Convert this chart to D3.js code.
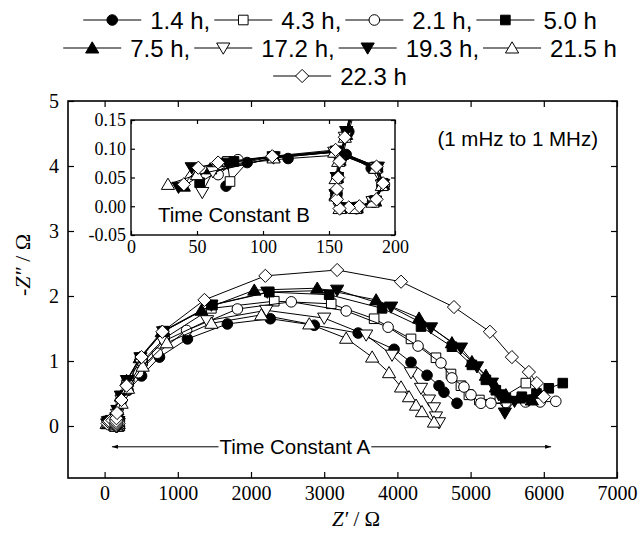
<!DOCTYPE html>
<html>
<head>
<meta charset="utf-8">
<script src="https://cdn.jsdelivr.net/npm/d3@7"></script>
<style>
  body { margin: 0; background: #fff; }
  .sans { font-family: "Liberation Sans", Arial, sans-serif; }
  .serif { font-family: "Liberation Serif", "Times New Roman", serif; }
</style>
</head>
<body>
<svg width="644" height="533"></svg>
<script>
// Nyquist data, [Z', -Z''] in ohm, high to low frequency
const h1_4 = [[72,0.035],[88,0.076],[119,0.083],[163,0.09],[182,0.066],[190,0.036],[183,0.008],[170,-0.002],[159,-0.002],[156,0.022],[157,0.052],[160,0.085],[165,0.13],[180,0.25],[230,0.4],[320,0.55],[505,0.77],[750,1.06],[1132,1.34],[1677,1.57],[2264,1.65],[2864,1.55],[3464,1.43],[3955,1.18],[4186,0.98],[4405,0.78],[4568,0.62],[4636,0.52],[4814,0.35]];
const h4_3 = [[75,0.043],[73,0.078],[108,0.086],[154,0.094],[185,0.068],[191,0.04],[185,0.009],[171,-0.003],[160,-0.003],[156,0.018],[156,0.048],[158,0.082],[163,0.128],[175,0.24],[230,0.45],[330,0.68],[520,1.0],[820,1.35],[1459,1.81],[2318,1.92],[3096,1.88],[3682,1.65],[4186,1.34],[4527,1.05],[4732,0.8],[4868,0.62],[4977,0.48],[5120,0.4],[5400,0.42],[5755,0.66]];
const h2_1 = [[66,0.055],[81,0.081],[108,0.085],[155,0.095],[186,0.067],[192,0.037],[184,0.007],[171,-0.004],[159,-0.004],[155,0.02],[156,0.05],[158,0.08],[163,0.12],[172,0.2],[225,0.38],[310,0.56],[460,0.82],[720,1.12],[1120,1.47],[1814,1.8],[2550,1.91],[3300,1.77],[3873,1.52],[4282,1.23],[4595,0.97],[4745,0.74],[4909,0.6],[5005,0.48],[5141,0.35],[5277,0.35],[5480,0.36],[5750,0.37],[5950,0.37],[6164,0.38]];
const h5_0 = [[52,0.041],[78,0.078],[108,0.086],[156,0.096],[187,0.068],[191,0.039],[185,0.01],[172,-0.002],[160,-0.003],[156,0.02],[157,0.05],[159,0.083],[164,0.13],[176,0.24],[225,0.46],[305,0.7],[485,1.05],[810,1.46],[1473,1.86],[2250,2.06],[3068,2.02],[3791,1.81],[4323,1.53],[4745,1.22],[5018,0.94],[5209,0.71],[5345,0.55],[5482,0.43],[5700,0.45],[5900,0.5],[6068,0.58],[6259,0.66]];
const h7_5 = [[40,0.035],[60,0.065],[108,0.086],[155,0.096],[186,0.068],[191,0.038],[185,0.009],[171,-0.003],[159,-0.003],[155,0.02],[156,0.05],[158,0.08],[163,0.125],[175,0.25],[222,0.46],[300,0.7],[480,1.05],[780,1.45],[1323,1.78],[2045,2.09],[2905,2.12],[3709,1.94],[4296,1.66],[4745,1.28],[5018,0.99],[5209,0.78],[5345,0.6],[5482,0.48],[5659,0.43],[5837,0.4]];
const h17_2 = [[54,0.024],[62,0.06],[108,0.084],[154,0.094],[185,0.067],[190,0.037],[183,0.008],[170,-0.003],[158,-0.003],[155,0.02],[156,0.05],[158,0.08],[162,0.12],[170,0.18],[232,0.4],[320,0.62],[500,0.95],[800,1.3],[1400,1.62],[2209,1.78],[3000,1.66],[3573,1.4],[3927,1.09],[4186,0.82],[4323,0.58],[4432,0.4],[4500,0.28],[4527,0.14],[4568,0.05]];
const h19_3 = [[36,0.033],[46,0.067],[73,0.075],[108,0.086],[156,0.096],[187,0.068],[191,0.038],[185,0.009],[171,-0.003],[159,-0.003],[155,0.02],[156,0.05],[158,0.082],[163,0.13],[175,0.24],[222,0.46],[305,0.7],[490,1.05],[800,1.45],[1459,1.86],[2223,2.06],[3177,2.09],[3914,1.83],[4459,1.51],[4868,1.2],[5087,0.91],[5291,0.66],[5386,0.48],[5468,0.2],[5600,0.38],[5800,0.4]];
const h21_5 = [[28,0.038],[50,0.055],[108,0.084],[154,0.094],[185,0.066],[190,0.036],[183,0.007],[170,-0.004],[158,-0.004],[155,0.018],[155,0.048],[157,0.078],[162,0.12],[168,0.16],[232,0.35],[320,0.58],[520,0.92],[850,1.28],[1459,1.58],[2141,1.71],[2796,1.57],[3300,1.35],[3655,1.06],[3886,0.82],[4050,0.6],[4159,0.45],[4255,0.32],[4336,0.22],[4500,0.06]];
const h22_3 = [[40,0.038],[51,0.067],[66,0.076],[107,0.087],[155,0.098],[186,0.069],[191,0.04],[186,0.012],[173,0],[165,-0.002],[158,-0.004],[156,0.012],[156,0.03],[157,0.05],[158,0.078],[162,0.12],[170,0.2],[230,0.4],[300,0.62],[505,1.06],[790,1.45],[1364,1.94],[2196,2.31],[3177,2.4],[4050,2.22],[4773,1.83],[5264,1.45],[5564,1.06],[5796,0.83],[5905,0.66],[6000,0.45]];

const seriesData = [h1_4, h4_3, h2_1, h5_0, h7_5, h17_2, h19_3, h21_5, h22_3];
const seriesLabels = ['1.4 h,', '4.3 h,', '2.1 h,', '5.0 h', '7.5 h,', '17.2 h,', '19.3 h,', '21.5 h', '22.3 h'];
const legendRows = [[0, 1, 2, 3], [4, 5, 6, 7], [8]];

const xTicks = [0, 1000, 2000, 3000, 4000, 5000, 6000, 7000];
const yTicks = [0, 1, 2, 3, 4, 5];
const insetXTicks = [0, 50, 100, 150, 200];
const insetYTicks = [-0.05, 0, 0.05, 0.1, 0.15];

// marker look per series
const shapes = ['circle', 'square', 'circle', 'square', 'up', 'down', 'down', 'up', 'diamond'];
const filled = [true, false, false, true, true, false, true, false, false];

function markerPath(shape) {
  switch (shape) {
    case 'circle': return 'M-5.3,0a5.3,5.3 0 1,0 10.6,0a5.3,5.3 0 1,0 -10.6,0Z';
    case 'square': return 'M-4.8,-4.8H4.8V4.8H-4.8Z';
    case 'up': return 'M0,-6.2L6.6,5L-6.6,5Z';
    case 'down': return 'M0,6.2L6.6,-5L-6.6,-5Z';
    case 'diamond': return 'M0,-6.6L6.6,0L0,6.6L-6.6,0Z';
  }
}

const SERIF = '"Liberation Serif", "Times New Roman", serif';
const svg = d3.select('svg');

const x = d3.scaleLinear().domain([-500, 7000]).range([68, 617]);
const y = d3.scaleLinear().domain([-0.8, 5]).range([478, 101]);

// axes, ticks pointing inward
function styleAxis(g, size) {
  g.select('.domain').remove();
  g.selectAll('.tick line').attr('stroke', '#000').attr('stroke-width', 1.2);
  g.selectAll('.tick text')
    .style('font-family', SERIF)
    .style('font-size', size + 'px')
    .attr('fill', '#000');
}

svg.append('g')
  .attr('transform', 'translate(0,478)')
  .call(d3.axisBottom(x).tickValues(xTicks).tickSize(-6).tickPadding(8).tickFormat(d => d))
  .call(g => styleAxis(g, 20));
svg.append('g')
  .attr('transform', 'translate(0,101)')
  .call(d3.axisTop(x).tickValues(xTicks).tickSize(-6).tickFormat(''))
  .call(g => styleAxis(g, 20));
svg.append('g')
  .attr('transform', 'translate(68,0)')
  .call(d3.axisLeft(y).tickValues(yTicks).tickSize(-6).tickPadding(9).tickFormat(d => d))
  .call(g => styleAxis(g, 20));
svg.append('g')
  .attr('transform', 'translate(617,0)')
  .call(d3.axisRight(y).tickValues(yTicks).tickSize(-6).tickFormat(''))
  .call(g => styleAxis(g, 20));

svg.append('rect')
  .attr('x', 68).attr('y', 101)
  .attr('width', 617 - 68).attr('height', 478 - 101)
  .attr('fill', 'none').attr('stroke', '#000').attr('stroke-width', 1.6);

function drawSeries(g, sx, sy) {
  const line = d3.line().x(d => sx(d[0])).y(d => sy(d[1]));
  seriesData.forEach((data, i) => {
    g.append('path')
      .attr('d', line(data))
      .attr('fill', 'none')
      .attr('stroke', '#000')
      .attr('stroke-width', 1);
    g.selectAll(null)
      .data(data)
      .enter()
      .append('path')
      .attr('d', markerPath(shapes[i]))
      .attr('transform', d => `translate(${sx(d[0])},${sy(d[1])})`)
      .attr('fill', filled[i] ? '#000' : '#fff')
      .attr('stroke', '#000')
      .attr('stroke-width', 1);
  });
}

drawSeries(svg.append('g'), x, y);

// Time Constant A annotation
const annoY = y(-0.32);
const ax0 = x(100), ax1 = x(6100);
const annoA = svg.append('text')
  .attr('class', 'sans')
  .attr('x', x(2600)).attr('y', annoY)
  .attr('dy', '0.35em')
  .attr('text-anchor', 'middle')
  .attr('font-size', 20.5)
  .text('Time Constant A');
const aw = annoA.node().getComputedTextLength();
svg.append('line').attr('x1', ax0).attr('x2', x(2600) - aw / 2 - 1).attr('y1', annoY).attr('y2', annoY).attr('stroke', '#000');
svg.append('line').attr('x1', x(2600) + aw / 2 + 1).attr('x2', ax1).attr('y1', annoY).attr('y2', annoY).attr('stroke', '#000');
svg.append('path').attr('d', `M${ax0},${annoY}l6,-2v4Z`).attr('fill', '#000');
svg.append('path').attr('d', `M${ax1},${annoY}l-6,-2v4Z`).attr('fill', '#000');

svg.append('text')
  .attr('class', 'sans')
  .attr('x', 598).attr('y', 146)
  .attr('text-anchor', 'end')
  .attr('font-size', 20.5)
  .text('(1 mHz to 1 MHz)');

// axis titles
const xt = svg.append('text')
  .attr('class', 'serif')
  .attr('x', 356).attr('y', 526)
  .attr('text-anchor', 'middle')
  .attr('font-size', 21);
xt.append('tspan').attr('font-style', 'italic').text('Z′');
xt.append('tspan').text(' / Ω');

const yt = svg.append('text')
  .attr('class', 'serif')
  .attr('transform', 'translate(30,265) rotate(-90)')
  .attr('text-anchor', 'middle')
  .attr('font-size', 22);
yt.append('tspan').attr('font-style', 'italic').text('-Z″');
yt.append('tspan').text(' / Ω');

// inset
const ix = d3.scaleLinear().domain([0, 200]).range([131, 395]);
const iy = d3.scaleLinear().domain([-0.05, 0.15]).range([235, 120]);

svg.append('rect')
  .attr('x', 131).attr('y', 120)
  .attr('width', 395 - 131).attr('height', 235 - 120)
  .attr('fill', '#fff');

svg.append('defs').append('clipPath').attr('id', 'insetClip')
  .append('rect')
  .attr('x', 131).attr('y', 120)
  .attr('width', 395 - 131).attr('height', 235 - 120);

drawSeries(svg.append('g').attr('clip-path', 'url(#insetClip)'), ix, iy);

svg.append('g')
  .attr('transform', 'translate(0,235)')
  .call(d3.axisBottom(ix).tickValues(insetXTicks).tickSize(-4).tickPadding(5).tickFormat(d => d))
  .call(g => styleAxis(g, 18));
svg.append('g')
  .attr('transform', 'translate(0,120)')
  .call(d3.axisTop(ix).tickValues(insetXTicks).tickSize(-4).tickFormat(''))
  .call(g => styleAxis(g, 18));
svg.append('g')
  .attr('transform', 'translate(131,0)')
  .call(d3.axisLeft(iy).tickValues(insetYTicks).tickSize(-4).tickPadding(5).tickFormat(d => d.toFixed(2)))
  .call(g => styleAxis(g, 18));
svg.append('g')
  .attr('transform', 'translate(395,0)')
  .call(d3.axisRight(iy).tickValues(insetYTicks).tickSize(-4).tickFormat(''))
  .call(g => styleAxis(g, 18));

svg.append('rect')
  .attr('x', 131).attr('y', 120)
  .attr('width', 395 - 131).attr('height', 235 - 120)
  .attr('fill', 'none').attr('stroke', '#000').attr('stroke-width', 1.4);

svg.append('text')
  .attr('class', 'sans')
  .attr('x', 158).attr('y', 222)
  .attr('font-size', 20.5)
  .text('Time Constant B');

// legend
const rowY = [20, 48, 76];
legendRows.forEach((row, ri) => {
  const g = svg.append('g').attr('class', 'sans');
  let cx = 0;
  row.forEach(i => {
    const item = g.append('g').attr('transform', `translate(${cx},0)`);
    item.append('line').attr('x1', 0).attr('x2', 58).attr('stroke', '#000').attr('stroke-width', 1.2);
    item.append('path')
      .attr('d', markerPath(shapes[i]))
      .attr('transform', 'translate(29,0)')
      .attr('fill', filled[i] ? '#000' : '#fff')
      .attr('stroke', '#000');
    const t = item.append('text')
      .attr('x', 67).attr('dy', '0.36em')
      .attr('font-size', 24)
      .text(seriesLabels[i]);
    cx += 67 + t.node().getComputedTextLength() + 4;
  });
  g.attr('transform', `translate(${340 - (cx - 4) / 2},${rowY[ri]})`);
});
</script>
</body>
</html>
